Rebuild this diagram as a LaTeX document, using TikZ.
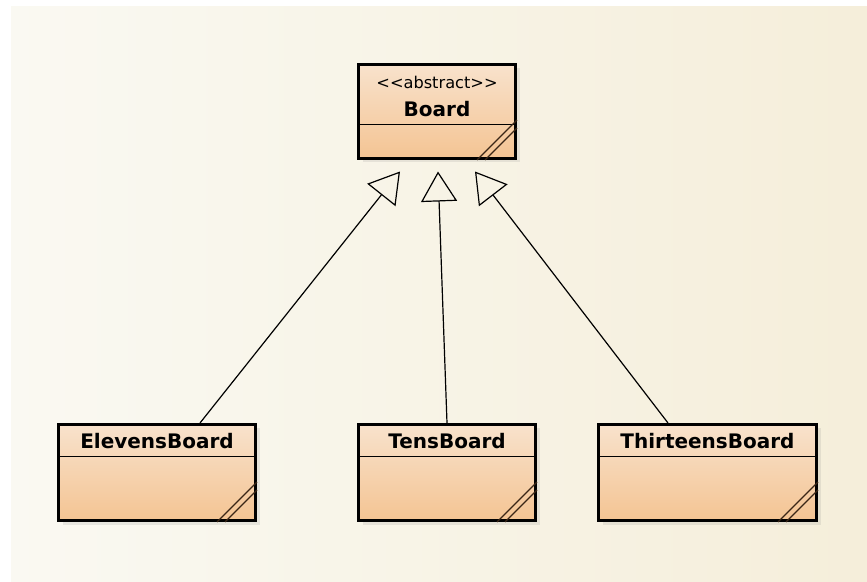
\documentclass[tikz,border=0pt]{standalone}
\usepackage{fontspec}
\setsansfont{DejaVu Sans}
\usetikzlibrary{arrows.meta, positioning, shadows}
\definecolor{boxtop}{HTML}{F8E2CC}
\definecolor{boxbottom}{HTML}{F4C493}
\definecolor{griplines}{HTML}{3A2616}
\definecolor{bgleft}{HTML}{FAF9F2}
\definecolor{bgright}{HTML}{F5EEDA}

\begin{document}
\begin{tikzpicture}[x=0.5pt, y=-0.5pt, every node/.style={font=\sffamily, align=center},
  classbox/.style={draw, line width=1.5pt, top color=boxtop, bottom color=boxbottom, inner sep=0pt,
    minimum height=48pt, drop shadow={opacity=0.15, shadow xshift=2pt, shadow yshift=-2pt}},
  classname/.style={font=\sffamily\bfseries\fontsize{10}{12}\selectfont},
  stereo/.style={font=\sffamily\fontsize{8.1}{9}\selectfont},
  divider/.style={line width=0.8pt},
  grip/.style={griplines, line width=0.6pt},
  inherit/.style={line width=0.6pt, -{Triangle[open, length=15pt, width=18pt, line width=0.6pt]}}]
  % Page and background
  \useasboundingbox (0,0) rectangle (867,582);
  \fill[left color=bgleft, right color=bgright] (11,7) rectangle (867,582);

  % Abstract parent
  \node (board) [classbox, minimum width=78.5pt, minimum height=47pt] at (437,111.5) {};
  \node (boardstereo) [stereo] at ([yshift=-9.5pt]board.north) {<\kern0pt<abstract>\kern0pt>};
  \node (boardname) [classname] at ([yshift=-23pt]board.north) {Board};
  \draw[divider] ([yshift=-30.75pt]board.north west) -- ([yshift=-30.75pt]board.north east);
  \draw[grip] ([xshift=-20pt]board.south east) -- ([yshift=20pt]board.south east);
  \draw[grip] ([xshift=-16pt]board.south east) -- ([yshift=16pt]board.south east);

  % Subclasses
  \node (elevens) [classbox, minimum width=98.5pt] at (157,472.5) {};
  \node (elevensname) [classname] at ([yshift=-9.25pt]elevens.north) {ElevensBoard};
  \draw[divider] ([yshift=-16.75pt]elevens.north west) -- ([yshift=-16.75pt]elevens.north east);
  \draw[grip] ([xshift=-20pt]elevens.south east) -- ([yshift=20pt]elevens.south east);
  \draw[grip] ([xshift=-16pt]elevens.south east) -- ([yshift=16pt]elevens.south east);

  \node (tens) [classbox, minimum width=88.5pt] at (447,472.5) {};
  \node (tensname) [classname] at ([yshift=-9.25pt]tens.north) {TensBoard};
  \draw[divider] ([yshift=-16.75pt]tens.north west) -- ([yshift=-16.75pt]tens.north east);
  \draw[grip] ([xshift=-20pt]tens.south east) -- ([yshift=20pt]tens.south east);
  \draw[grip] ([xshift=-16pt]tens.south east) -- ([yshift=16pt]tens.south east);

  \node (thirteens) [classbox, minimum width=109pt] at (707.5,472.5) {};
  \node (thirteensname) [classname] at ([yshift=-9.25pt]thirteens.north) {ThirteensBoard};
  \draw[divider] ([yshift=-16.75pt]thirteens.north west) -- ([yshift=-16.75pt]thirteens.north east);
  \draw[grip] ([xshift=-20pt]thirteens.south east) -- ([yshift=20pt]thirteens.south east);
  \draw[grip] ([xshift=-16pt]thirteens.south east) -- ([yshift=16pt]thirteens.south east);

  % Generalization arrows
  \draw[inherit] ([xshift=21.5pt]elevens.north) -- ([xshift=-18.5pt, yshift=-5.75pt]board.south);
  \draw[inherit] (tens.north) -- ([xshift=0.5pt, yshift=-5.75pt]board.south);
  \draw[inherit] ([xshift=-19.75pt]thirteens.north) -- ([xshift=19pt, yshift=-5.75pt]board.south);
\end{tikzpicture}
\end{document}
